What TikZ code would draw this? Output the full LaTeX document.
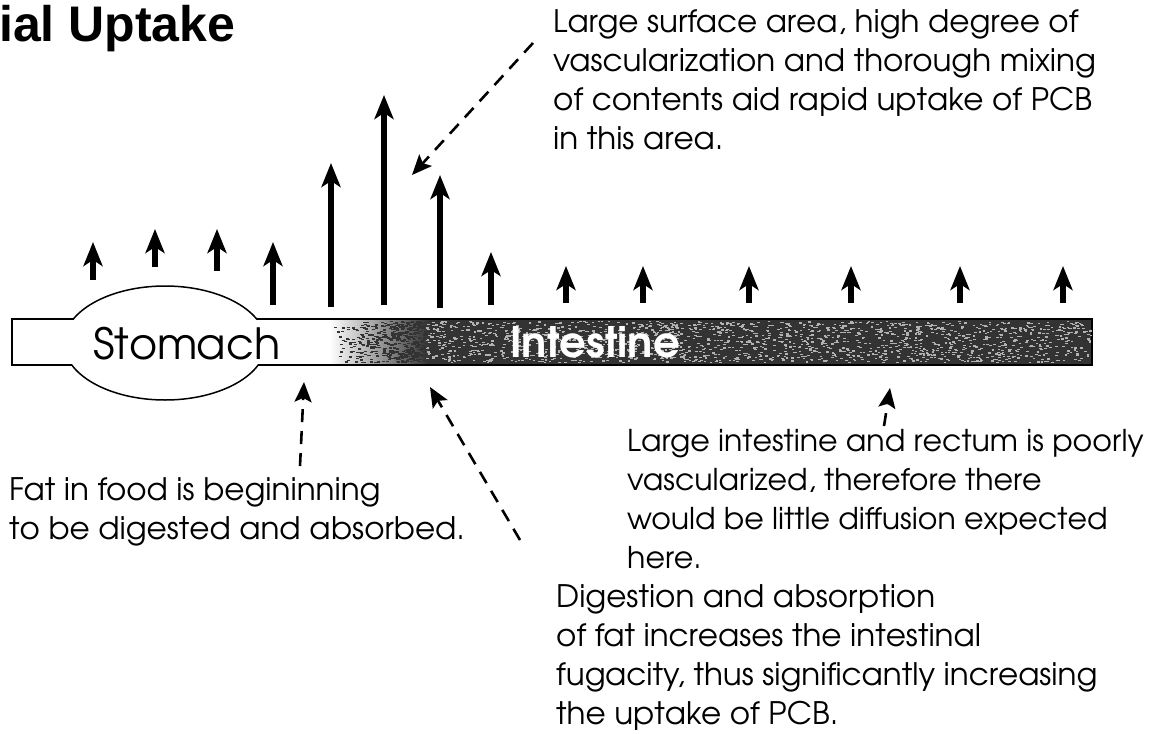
\documentclass[tikz,border=0pt]{standalone}
\usepackage[T1]{fontenc}
\usepackage{fontspec}
\newfontfamily\titlefont{Liberation Sans}
\usetikzlibrary{arrows.meta,shapes.geometric}
\newcommand\gothic{\usefont{T1}{pag}{m}{n}}
\pgfdeclarehorizontalshading{gutshade}{100bp}{color(0bp)=(white); color(39.7bp)=(white);
  color(44.3bp)=(black!80); color(100bp)=(black!80)}
\tikzset{
  flux/.style  ={-{Stealth[length=24pt,width=19pt,inset=6pt]}, line width=5.5pt},
  hint/.style  ={-{Stealth[length=20pt,width=17pt,inset=4pt]}, line width=2.6pt,
                 dash pattern=on 13pt off 9pt},
  note/.style  ={font=\gothic\fontsize{31}{39}\selectfont, align=left,
                 anchor=north west, inner sep=0pt},
  organ/.style ={font=\gothic\fontsize{43}{43}\selectfont, anchor=base west, inner sep=0pt},
}
\begin{document}
\begin{tikzpicture}[x=1pt, y=-1pt]
\useasboundingbox (0,0) rectangle (1153,733);

% ---- title -------------------------------------------------------------
\node[font=\titlefont\bfseries\fontsize{50}{50}\selectfont, anchor=base west,
      inner sep=0pt] (title) at (-1,42) {ial Uptake};

% ---- gut: stomach and intestine ---------------------------------------
\node[draw, line width=1.5pt, shading=gutshade, minimum width=1080pt,
      minimum height=46pt, inner sep=0pt] (gut) at (552,342) {};
% speckled lining
\pgfmathsetseed{2718}
\foreach \i in {1,...,1700}{
  \pgfmathsetmacro\sx{425+665*rnd}
  \pgfmathsetmacro\sy{321+41*rnd}
  \fill[black!30] (\sx,\sy) rectangle ++(2.6,1.2);
}
\foreach \i in {1,...,450}{
  \pgfmathsetmacro\sx{330+95*sqrt(rnd)}
  \pgfmathsetmacro\sy{321+41*rnd}
  \fill[black!80] (\sx,\sy) rectangle ++(3,1.4);
}
\node[draw, ellipse, line width=1.5pt, fill=white, minimum width=202pt,
      minimum height=114pt, inner sep=0pt] (stomach) at (165,343) {};
\fill[white] (58,320.3) rectangle (272,363.7);
\node[organ] (stomlbl) at (93,359) {Stomach};
\node[organ, text=white, font=\usefont{T1}{pag}{db}{n}\fontsize{42}{42}\selectfont]
  (intlbl) at (510,357) {Intestine};

% ---- uptake arrows ----------------------------------------------------
\foreach \x/\tp/\bt in {93/242/280, 155/229/267, 217/229/271, 273/242/305,
    331/163/307, 384/95/305, 440/175/308, 491/252/305, 566/266/303,
    643/266/303, 749/266/303, 851/266/303, 960/266/303, 1063/266/303}
  \draw[flux] (\x,\bt) -- (\x,\tp);

% ---- notes ------------------------------------------------------------
\node[note] (surfnote) at (553,9) {Large surface area, high degree of\\
  vascularization and thorough mixing\\of contents aid rapid uptake of PCB\\
  in this area.};
\node[note] (fatnote) at (9,477) {Fat in food is begininning\\
  to be digested and absorbed.};
\node[note, font=\gothic\fontsize{30}{39}\selectfont] (lgnote) at (627,429)
  {Large intestine and rectum is poorly\\
  vascularized, therefore there\\would be little diffusion expected\\here.};
\node[note] (dignote) at (556,584) {Digestion and absorption\\
  of fat increases the intestinal\\fugacity, thus significantly increasing\\
  the uptake of PCB.};

\coordinate (surftail) at (533,43);  \coordinate (surftip) at (412,175);
\coordinate (fattail)  at (300,466); \coordinate (fattip)  at (304,382);
\coordinate (digtail)  at (520,540); \coordinate (digtip)  at (430,387);
\coordinate (lgtail)   at (884,426); \coordinate (lgtip)   at (890,388);

\draw[hint] (surftail) -- (surftip);
\draw[hint] (fattail) -- (fattip);
\draw[hint] (digtail) -- (digtip);
\draw[hint] (lgtail) -- (lgtip);

\end{tikzpicture}
\end{document}
